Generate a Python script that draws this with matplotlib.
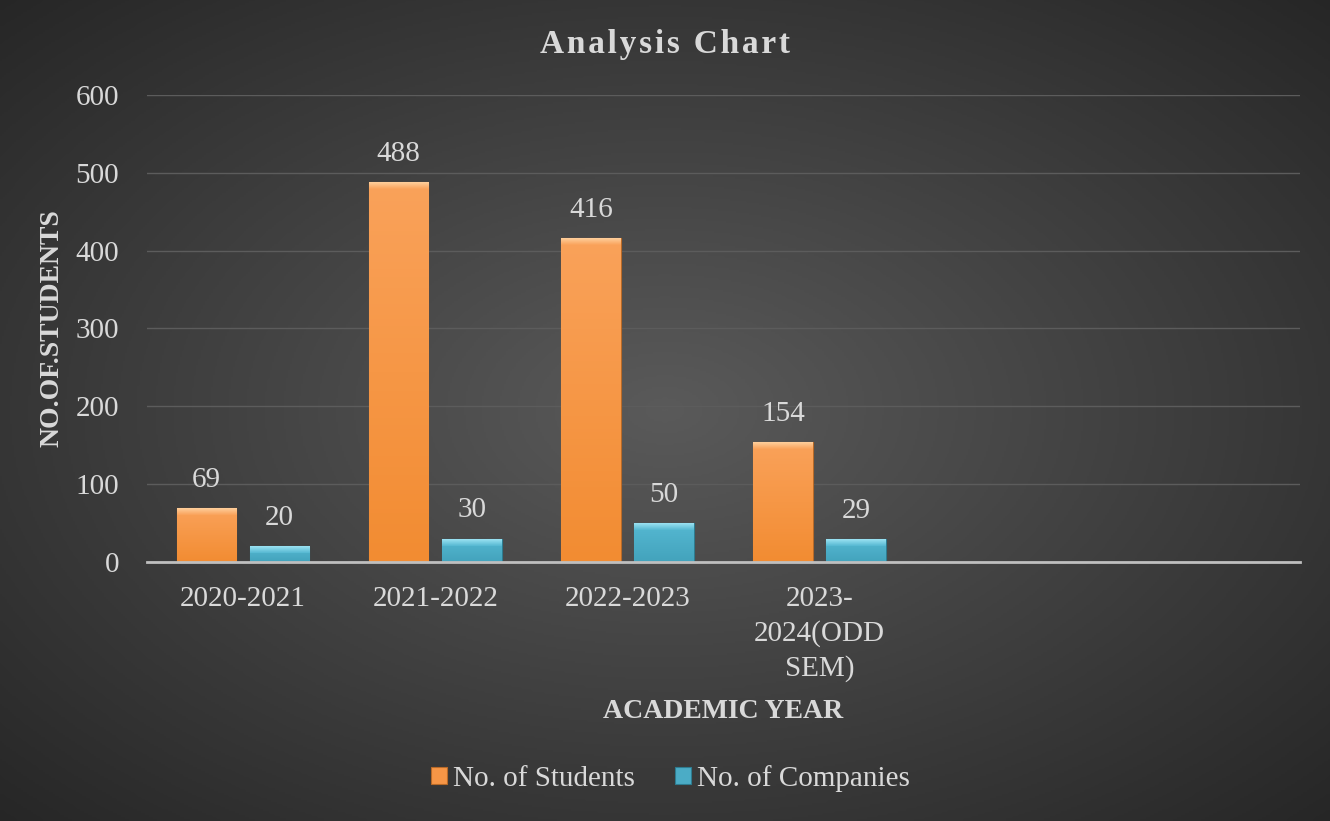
import numpy as np
import matplotlib
matplotlib.use('Agg')
import matplotlib.pyplot as plt
from matplotlib.colors import LinearSegmentedColormap

plt.rcParams['font.family'] = ['Liberation Serif', 'DejaVu Serif']
plt.rcParams['font.size'] = 21

years = ['2020-2021', '2021-2022', '2022-2023', '2023-\n2024(ODD\nSEM)', '', '']
students = [69, 488, 416, 154]
companies = [20, 30, 50, 29]
yticks = [0, 100, 200, 300, 400, 500, 600]

txt = '#D9D9D9'
fig = plt.figure(figsize=(13.3, 8.21), dpi=100)

# radial dark background
bg = fig.add_axes([0, 0, 1, 1], zorder=-5)
yy, xx = np.mgrid[0:1:400j, 0:1:650j]
r = np.sqrt(((xx - 0.5) / 0.75) ** 2 + ((yy - 0.5) / 0.75) ** 2)
bgcm = LinearSegmentedColormap.from_list('bg', ['#5a5a5a', '#262626'])
bg.imshow(r, cmap=bgcm, aspect='auto', extent=[0, 1, 0, 1], vmin=0, vmax=0.95)
bg.axis('off')

ax = fig.add_axes([0.1105, 0.3155, 0.8669, 0.5688])
ax.set_facecolor('none')

x = np.arange(len(years))
w = 0.31
off = 0.19
b1 = ax.bar(x[:len(students)] - off, students, w, color='#F79646',
            edgecolor='#B86A28', linewidth=0.8, zorder=3, label='No. of Students')
b2 = ax.bar(x[:len(companies)] + off, companies, w, color='#4BACC6',
            edgecolor='#2E7C90', linewidth=0.8, zorder=3, label='No. of Companies')


def shade(bars, top, bottom, hl):
    cm = LinearSegmentedColormap.from_list('s', [bottom, top])
    for p in bars:
        x0, y0 = p.get_x(), p.get_y()
        x1, y1 = x0 + p.get_width(), y0 + p.get_height()
        grad = np.linspace(0, 1, 100).reshape(-1, 1)
        im = ax.imshow(grad, cmap=cm, origin='lower', aspect='auto',
                       extent=[x0, x1, y0, y1], zorder=3.5)
        im.set_clip_path(p)
        # bevel highlight on the top edge
        hcm = LinearSegmentedColormap.from_list('h', [top, hl])
        hb = ax.imshow(grad, cmap=hcm, origin='lower', aspect='auto',
                       extent=[x0, x1, y1 - 9, y1], zorder=4)
        hb.set_clip_path(p)


shade(b1, '#FAA25A', '#F28C32', '#FFD6A6')
shade(b2, '#55B8D2', '#43A3BC', '#A6E8F7')

for bars in (b1, b2):
    for p in bars:
        ax.annotate(f'{int(p.get_height())}', (p.get_x() + p.get_width() / 2, p.get_height()),
                    xytext=(0, 11), textcoords='offset points', ha='center', va='bottom',
                    color=txt, fontsize=21)

ax.set_xlim(-0.5, len(years) - 0.5)
ax.set_ylim(0, 600)
ax.set_yticks(yticks)
ax.set_xticks(x)
ax.set_xticklabels(years, linespacing=1.4)
ax.grid(axis='y', color='#5c5c5c', linewidth=1, zorder=0)
ax.tick_params(axis='both', length=0, colors=txt, labelsize=21)
ax.tick_params(axis='x', pad=17)
ax.tick_params(axis='y', pad=20)
for s in ['top', 'right', 'left']:
    ax.spines[s].set_visible(False)
ax.spines['bottom'].set_color('#BFBFBF')
ax.spines['bottom'].set_linewidth(2)
ax.spines['bottom'].set_zorder(5)

ax.set_ylabel('NO.OF.STUDENTS', color=txt, fontsize=20, fontweight='bold', labelpad=8)
ax.set_xlabel('ACADEMIC YEAR', color=txt, fontsize=20, fontweight='bold', labelpad=12)
fig.text(0.5, 0.946, '\u200a'.join('Analysis Chart'), ha='center', va='center', color=txt,
         fontsize=24, fontweight='bold')

leg = fig.legend(handles=[b1, b2], loc='center', bbox_to_anchor=(0.504, 0.052), ncol=2,
                 frameon=False, fontsize=21, handlelength=0.55, handleheight=0.55,
                 handletextpad=0.2, columnspacing=1.4)
for t in leg.get_texts():
    t.set_color(txt)

plt.savefig('out.png', dpi=100)
